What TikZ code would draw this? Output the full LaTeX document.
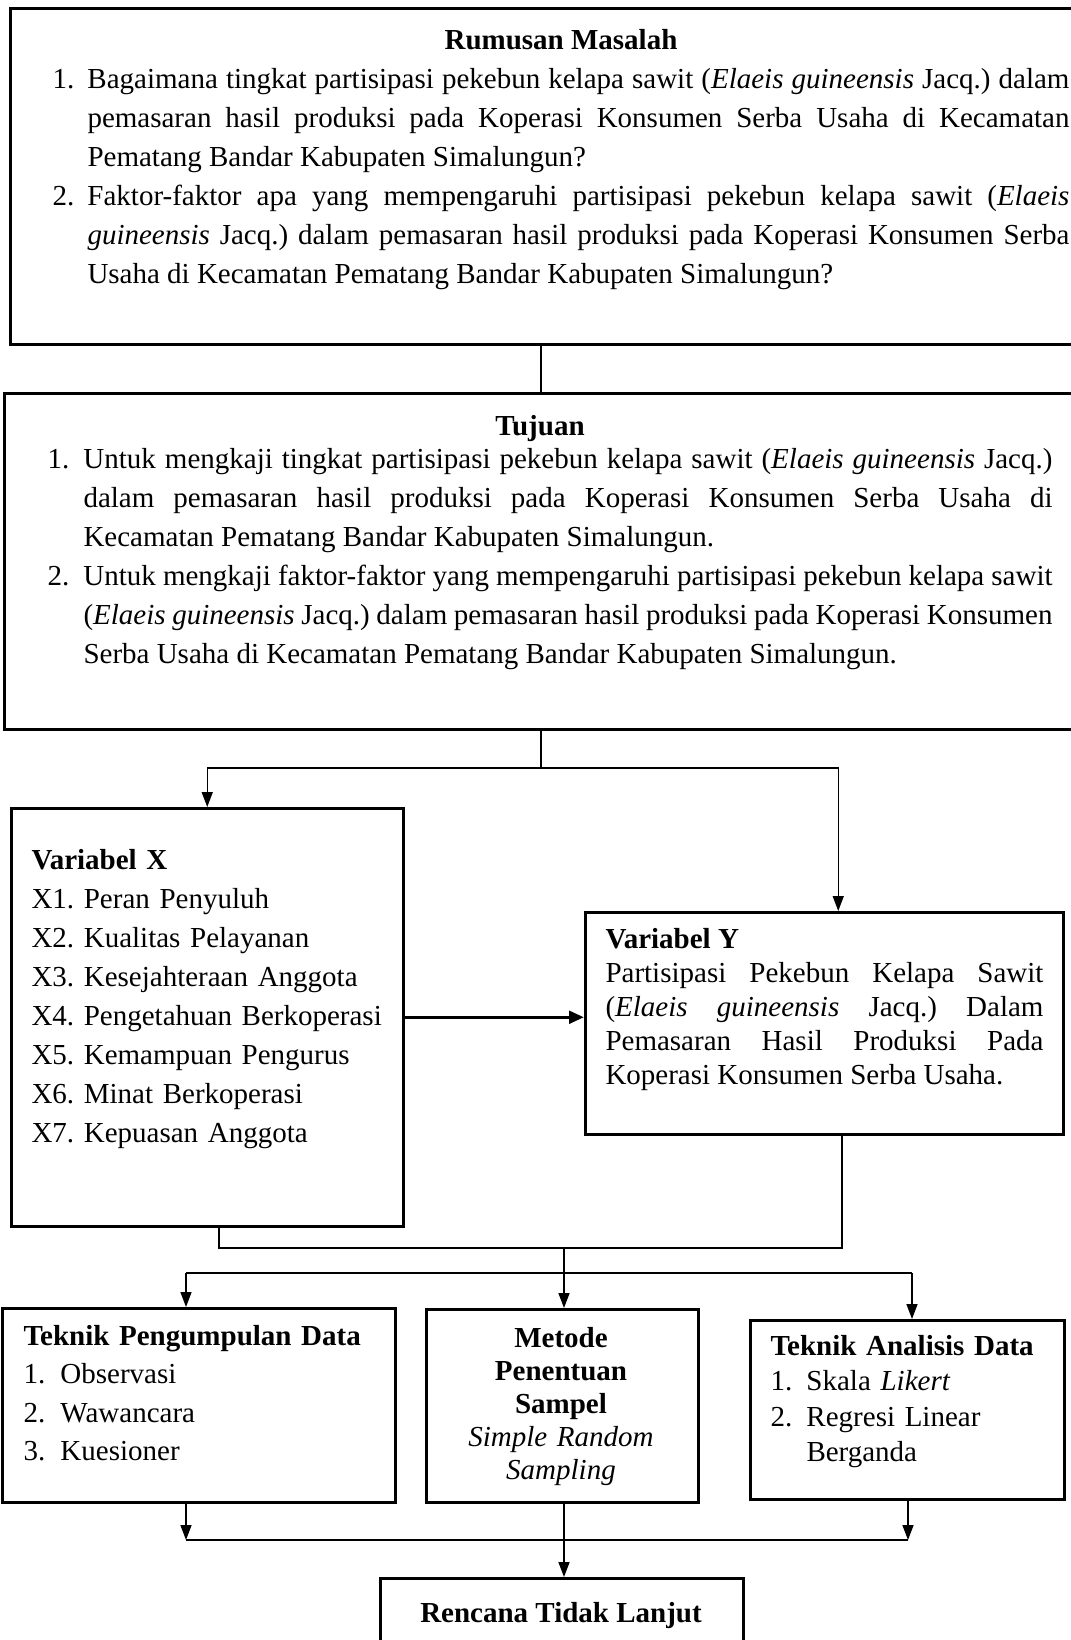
\documentclass[tikz,border=0pt]{standalone}
\usepackage{fontspec}
\setmainfont{Liberation Serif}
\usetikzlibrary{calc,arrows.meta}

\hyphenpenalty=10000
\exhyphenpenalty=10000
\tolerance=9999
\hbadness=10000

\tikzset{
  kotak/.style={draw,line width=1pt,inner sep=0pt,anchor=north west},
  isi/.style={inner sep=0pt,anchor=base west,align=justify},
  garis/.style={line width=0.6pt},
  panah/.style={line width=0.6pt,-{Triangle[length=6pt,width=4.4pt]}},
}
\newcommand{\butir}[3][14pt]{\par\noindent\hangindent=#1\makebox[#1][l]{#2}#3\par}
\newcommand{\fs}[1]{\fontsize{11.6}{#1}\selectfont\frenchspacing}

\begin{document}
\begin{tikzpicture}[x=0.4pt,y=-0.4pt]
    \useasboundingbox (0,0) rectangle (1071,1640);

    % kotak
    \node[kotak,minimum width=430.4pt,minimum height=134.4pt] (rm) at (9,7) {};
    \node[kotak,minimum width=432.8pt,minimum height=134.4pt] (tj) at (3,392) {};
    \node[kotak,minimum width=156.8pt,minimum height=167.2pt] (vx) at (10,807) {};
    \node[kotak,minimum width=191.2pt,minimum height=88.8pt] (vy) at (584,911) {};
    \node[kotak,minimum width=157.2pt,minimum height=77.6pt] (tpd) at (1,1307) {};
    \node[kotak,minimum width=108.8pt,minimum height=77.2pt] (mps) at (425,1308) {};
    \node[kotak,minimum width=125.6pt,minimum height=71.6pt] (tad) at (749,1319) {};
    \node[kotak,minimum width=145.2pt,minimum height=33.2pt] (rtl) at (379,1577) {};

    % isi kotak
    \node[isi,text width=406.8pt,font=\fs{15.6}] (rm isi) at (52,49) {%
      {\centering\bfseries Rumusan Masalah\par}
      \butir{1.}{Bagaimana tingkat partisipasi pekebun kelapa sawit (\textit{Elaeis guineensis} Jacq.) dalam\linebreak
        pemasaran hasil produksi pada Koperasi Konsumen Serba Usaha di Kecamatan\linebreak
        Pematang Bandar Kabupaten Simalungun?}
      \butir{2.}{Faktor-faktor apa yang mempengaruhi partisipasi pekebun kelapa sawit (\textit{Elaeis}\linebreak
        \textit{guineensis} Jacq.) dalam pemasaran hasil produksi pada Koperasi Konsumen Serba\linebreak
        Usaha di Kecamatan Pematang Bandar Kabupaten Simalungun?}};
    \node[isi,text width=402pt,font=\fs{15.6}] (tj isi) at (47,435) {%
      {\centering\hspace*{-8pt}\bfseries Tujuan\par}\vspace{-2.2pt}
      \butir[14.4pt]{1.}{Untuk mengkaji tingkat partisipasi pekebun kelapa sawit (\textit{Elaeis guineensis} Jacq.)\linebreak
        dalam pemasaran hasil produksi pada Koperasi Konsumen Serba Usaha di\linebreak
        Kecamatan Pematang Bandar Kabupaten Simalungun.}
      \butir[14.4pt]{2.}{Untuk mengkaji faktor-faktor yang mempengaruhi partisipasi pekebun kelapa sawit\linebreak
        (\textit{Elaeis guineensis} Jacq.) dalam pemasaran hasil produksi pada Koperasi Konsumen\linebreak
        Serba Usaha di Kecamatan Pematang Bandar Kabupaten Simalungun.}};
    \node[isi,text width=160pt,align=left,font=\fs{15.6}] (vx isi) at (31,869) {%
      \textbf{Variabel X}\\
      X1. Peran Penyuluh\\
      X2. Kualitas Pelayanan\\
      X3. Kesejahteraan Anggota\\
      X4. Pengetahuan Berkoperasi\\
      X5. Kemampuan Pengurus\\
      X6. Minat Berkoperasi\\
      X7. Kepuasan Anggota};
    \node[isi,text width=175.2pt,font=\fs{13.6}] (vy isi) at (605,948) {%
      {\bfseries Variabel Y\par}
      Partisipasi Pekebun Kelapa Sawit\linebreak
      (\textit{Elaeis guineensis} Jacq.) Dalam\linebreak
      Pemasaran Hasil Produksi Pada\linebreak
      Koperasi Konsumen Serba Usaha.};
    \node[isi,text width=150pt,align=left,font=\fs{15.4}] (tpd isi) at (23,1345) {%
      {\bfseries Teknik Pengumpulan Data\par}
      \butir[14.8pt]{1.}{Observasi}
      \butir[14.8pt]{2.}{Wawancara}
      \butir[14.8pt]{3.}{Kuesioner}};
    \node[isi,anchor=base,text width=100pt,align=center,font=\fs{13.2}] (mps isi) at (561,1347) {%
      \textbf{Metode}\\
      \textbf{Penentuan}\\
      \textbf{Sampel}\\
      \textit{Simple Random}\\
      \textit{Sampling}};
    \node[isi,text width=115pt,align=left,font=\fs{14.2}] (tad isi) at (770,1355) {%
      {\bfseries Teknik Analisis Data\par}
      \butir[14.4pt]{1.}{Skala \textit{Likert}}
      \butir[14.4pt]{2.}{Regresi Linear\newline Berganda}};
    \node[isi,anchor=base,font=\fs{15.6}\bfseries] (rtl isi) at (561,1622) {Rencana Tidak Lanjut};

    % titik percabangan
    \coordinate (s1) at (541,768);
    \coordinate (m1) at (219,1248);
    \coordinate (m2) at (842,1248);
    \coordinate (s2) at (564,1273);
    \coordinate (b1) at (186,1273);
    \coordinate (b3) at (912,1273);
    \coordinate (c1) at (186,1540);
    \coordinate (c3) at (908,1540);

    % garis penghubung
    \draw[garis] (rm.south -| s1) -- (tj.north -| s1);
    \draw[garis] (tj.south -| s1) -- (s1);
    \draw[panah] (s1) -| (vx.north);
    \draw[panah] (s1) -| ([xshift=5.6pt]vy.north);
    \draw[line width=1.4pt,-{Triangle[length=6pt,width=5pt]}] (vx.east) -- (vx.east -| vy.west);

    \draw[garis] (vx.south -| m1) -- (m1) -- (m2) -- (vy.south -| m2);
    \draw[garis] (s2 |- m1) -- (s2);
    \draw[garis] (b1) -- (b3);
    \draw[panah] (b1) -- (b1 |- tpd.north);
    \draw[panah] (s2) -- (s2 |- mps.north);
    \draw[panah] (b3) -- (b3 |- tad.north);

    \draw[panah] (tpd.south -| c1) -- (c1);
    \draw[panah] (tad.south -| c3) -- (c3);
    \draw[garis] (c1) -- (c3);
    \draw[panah] (mps.south -| s2) -- (rtl.north -| s2);

\end{tikzpicture}
\end{document}
